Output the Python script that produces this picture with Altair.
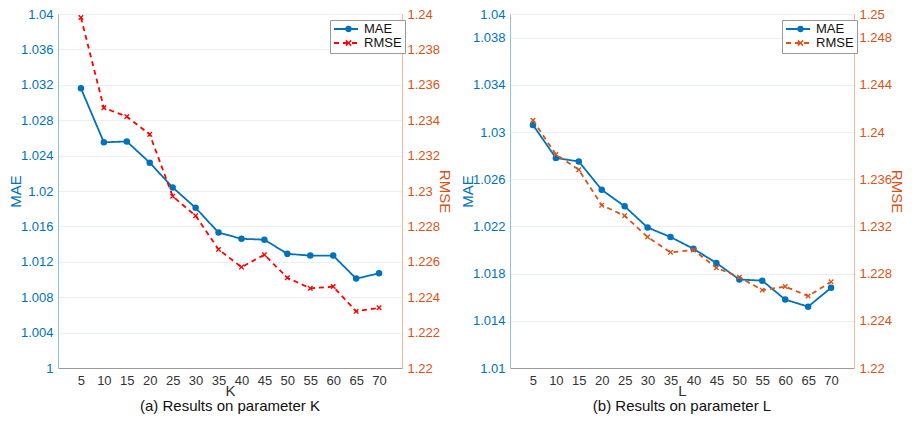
import altair as alt
import pandas as pd

params = [5, 10, 15, 20, 25, 30, 35, 40, 45, 50, 55, 60, 65, 70]

mae_k = [1.0316, 1.0255, 1.0256, 1.0232, 1.0204, 1.0181, 1.0153, 1.0146, 1.0145,
         1.0129, 1.0127, 1.0127, 1.0101, 1.0107]
rmse_k = [1.2398, 1.2347, 1.2342, 1.2332, 1.2297, 1.2286, 1.2267, 1.2257, 1.2264,
          1.2251, 1.2245, 1.2246, 1.2232, 1.2234]

mae_l = [1.0306, 1.0278, 1.0275, 1.0251, 1.0237, 1.0219, 1.0211, 1.0201, 1.0189,
         1.0175, 1.0174, 1.0158, 1.0152, 1.0168]
rmse_l = [1.2410, 1.2381, 1.2368, 1.2338, 1.2329, 1.2311, 1.2298, 1.2300, 1.2285,
          1.2277, 1.2266, 1.2269, 1.2261, 1.2273]

mae_ticks_k = [1, 1.004, 1.008, 1.012, 1.016, 1.02, 1.024, 1.028, 1.032, 1.036, 1.04]
rmse_ticks_k = [1.22, 1.222, 1.224, 1.226, 1.228, 1.23, 1.232, 1.234, 1.236, 1.238, 1.24]
mae_ticks_l = [1.01, 1.014, 1.018, 1.022, 1.026, 1.03, 1.034, 1.038, 1.04]
rmse_ticks_l = [1.22, 1.224, 1.228, 1.232, 1.236, 1.24, 1.244, 1.248, 1.25]

BLUE = "#0072BD"
ORANGE = "#D95319"
FONT = "Liberation Sans"
SERIES = ["MAE", "RMSE"]
MARKERS = ["mk_MAE", "mk_RMSE"]
XMARK = ("M-1,-0.65L-0.65,-1L0,-0.35L0.65,-1L1,-0.65L0.35,0L1,0.65L0.65,1"
         "L0,0.35L-0.65,1L-1,0.65L-0.35,0Z")

W, H = 344, 354
LX, LY = 272, 6


def panel(mae, rmse, mae_dom, rmse_dom, mae_ticks, rmse_ticks, xname, caption, rmse_color):
    df = pd.DataFrame({
        "x": params * 2,
        "value": mae + rmse,
        "series": ["MAE"] * len(params) + ["RMSE"] * len(params),
    })
    df["marker"] = "mk_" + df["series"]
    xenc = alt.X("x:Q", scale=alt.Scale(domain=[0, 75], nice=False, zero=False),
                 axis=alt.Axis(values=params, title=xname, grid=False, ticks=False, tickSize=0,
                               labelPadding=6, domainColor="#9a9a9a", labelColor="#333",
                               titleFontSize=15, titleFontWeight="normal", titlePadding=-4,
                               titleColor="#333"))
    leg_line = alt.Legend(title=None, orient="none", legendX=LX, legendY=LY,
                          strokeColor="#999", fillColor="white", padding=3,
                          labelFontSize=13, labelColor="#111", symbolType="stroke",
                          symbolSize=576, symbolStrokeWidth=1.8, clipHeight=12,
                          rowPadding=1, labelOffset=5, symbolOffset=0)
    leg_pt = alt.Legend(title=None, orient="none", legendX=LX, legendY=LY,
                        padding=3, labelFontSize=13, labelExpr="''",
                        symbolSize=40, symbolStrokeWidth=0, clipHeight=12,
                        rowPadding=1, labelOffset=5, symbolOffset=9)
    color = alt.Color("series:N", scale=alt.Scale(domain=SERIES, range=[BLUE, rmse_color]), legend=leg_line)
    dash = alt.StrokeDash("series:N", scale=alt.Scale(domain=SERIES, range=[[1, 0], [5, 4]]), legend=leg_line)
    fill = alt.Fill("marker:N", scale=alt.Scale(domain=MARKERS, range=[BLUE, rmse_color]), legend=leg_pt)
    shape = alt.Shape("marker:N", scale=alt.Scale(domain=MARKERS, range=["circle", XMARK]), legend=leg_pt)
    mdf = alt.Chart(df).transform_filter("datum.series == 'MAE'")
    rdf = alt.Chart(df).transform_filter("datum.series == 'RMSE'")
    yl = alt.Y("value:Q", scale=alt.Scale(domain=mae_dom, nice=False, zero=False),
               axis=alt.Axis(values=mae_ticks, format="~g", title="MAE", orient="left",
                             labelColor=BLUE, titleColor=BLUE, domainColor="#8fc1e6",
                             gridColor="#e8f0f6", ticks=False, tickSize=0, labelPadding=5,
                             titleFontSize=15, titleFontWeight="normal", titlePadding=-3))
    yr = alt.Y("value:Q", scale=alt.Scale(domain=rmse_dom, nice=False, zero=False),
               axis=alt.Axis(values=rmse_ticks, format="~g", title="RMSE", orient="right",
                             labelColor=ORANGE, titleColor=ORANGE, domainColor="#f2b9a0",
                             grid=False, ticks=False, tickSize=0, labelPadding=5,
                             titleFontSize=15, titleFontWeight="normal", titlePadding=-3))
    mline = mdf.mark_line(strokeWidth=1.8).encode(x=xenc, y=yl, color=color, strokeDash=dash)
    mpt = mdf.mark_point(filled=True, size=42, opacity=1, strokeWidth=0).encode(
        x=xenc, y=yl, fill=fill, shape=shape)
    rline = rdf.mark_line(strokeWidth=1.8).encode(x=xenc, y=yr, color=color, strokeDash=dash)
    rpt = rdf.mark_point(filled=True, size=30, opacity=1, strokeWidth=0).encode(
        x=xenc, y=yr, fill=fill, shape=shape)
    left = alt.layer(mline, mpt)
    right = alt.layer(rline, rpt)
    return alt.layer(left, right).resolve_scale(y="independent").properties(
        width=W, height=H,
        title=alt.TitleParams(caption, orient="bottom", fontSize=15, fontWeight="normal",
                              color="#111", font=FONT, offset=1, anchor="middle"),
    )


pa = panel(mae_k, rmse_k, [1, 1.04], [1.22, 1.24], mae_ticks_k, rmse_ticks_k, "K",
           "(a) Results on parameter K", "#FF0000")
pb = panel(mae_l, rmse_l, [1.01, 1.04], [1.22, 1.25], mae_ticks_l, rmse_ticks_l, "L",
           "(b) Results on parameter L", ORANGE)

chart = alt.hconcat(pa, pb, spacing=8).resolve_scale(
    color="independent", strokeDash="independent", shape="independent", fill="independent"
).resolve_legend(
    color="independent", strokeDash="independent", shape="independent", fill="independent"
).configure(font=FONT).configure_axis(
    labelFontSize=13, labelFont=FONT, titleFont=FONT
).configure_view(stroke=None).configure_legend(labelFont=FONT).properties(padding=0)

chart.save("out.html", embed_options={"renderer": "svg", "actions": False})
